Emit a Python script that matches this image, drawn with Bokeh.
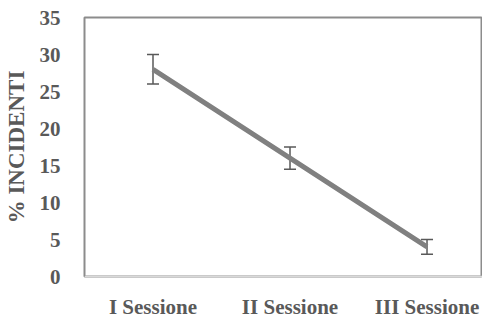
from bokeh.plotting import figure
from bokeh.models import ColumnDataSource, Whisker, TeeHead, Range1d, FixedTicker
from bokeh.embed import file_html
from bokeh.resources import INLINE

sessions = ["I Sessione", "II Sessione", "III Sessione"]
values = [28, 16, 4]
errors = [2, 1.5, 1]
y_ticks = [0, 5, 10, 15, 20, 25, 30, 35]

xs = list(range(len(sessions)))
src = ColumnDataSource(dict(
    x=xs, y=values,
    upper=[v + e for v, e in zip(values, errors)],
    lower=[v - e for v, e in zip(values, errors)],
))

FONT = "Liberation Serif"
TXT = "#595959"

p = figure(frame_width=398, frame_height=259, output_backend="svg", toolbar_location=None,
           x_range=Range1d(-0.5, 2.405), y_range=Range1d(0, 35),
           min_border_left=0, min_border_top=17, min_border_right=0, min_border_bottom=0)
p.grid.visible = False
p.outline_line_color = "#8c8c8c"
p.outline_line_width = 2
p.background_fill_color = "white"
p.border_fill_color = "white"

p.line("x", "y", source=src, line_color="#808080", line_width=5)
w = Whisker(source=src, base="x", upper="upper", lower="lower", dimension="height",
            line_color="#595959", line_width=1.5)
w.upper_head = TeeHead(size=12, line_color="#595959", line_width=1.5)
w.lower_head = TeeHead(size=12, line_color="#595959", line_width=1.5)
p.add_layout(w)

p.yaxis.ticker = FixedTicker(ticks=y_ticks)
p.xaxis.ticker = FixedTicker(ticks=xs)
p.xaxis.major_label_overrides = {i: s for i, s in enumerate(sessions)}

for ax in (p.xaxis[0], p.yaxis[0]):
    ax.major_tick_line_color = None
    ax.minor_tick_line_color = None
    ax.major_label_text_font = FONT
    ax.major_label_text_font_style = "bold"
    ax.major_label_text_font_size = "21px"
    ax.major_label_text_color = TXT
    ax.axis_label_text_font = FONT
    ax.axis_label_text_font_style = "bold"
    ax.axis_label_text_font_size = "23px"
    ax.axis_label_text_color = TXT

p.xaxis.axis_line_color = "#d9d9d9"
p.xaxis.axis_line_width = 1.5
p.xaxis.major_label_standoff = 12
p.yaxis.axis_line_color = "#8c8c8c"
p.yaxis.major_label_standoff = 18
p.yaxis.axis_label = "% INCIDENTI"
p.yaxis.axis_label_standoff = 8

open("out.html", "w").write(file_html(p, INLINE))
